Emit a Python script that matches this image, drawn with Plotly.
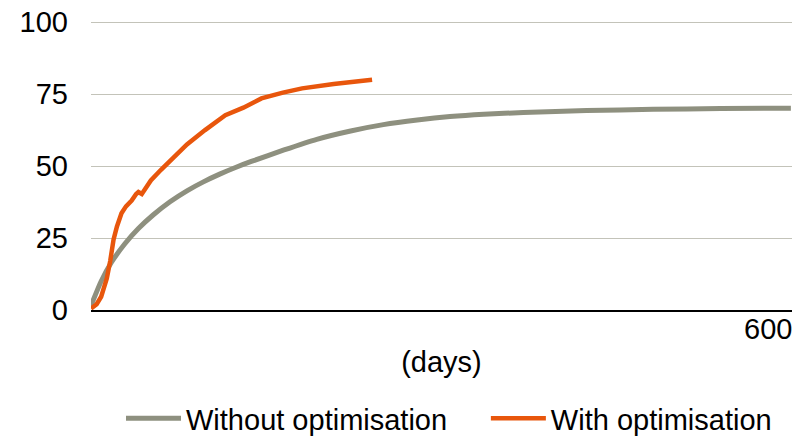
import plotly.graph_objects as go

# Data
without_days = [0, 9, 18, 30, 42, 55, 70, 85, 100, 114, 128, 142, 171, 200, 230, 259, 289, 318, 348, 383, 439, 498, 558, 620]
without_vals = [1.5, 10.0, 16.5, 23.0, 28.3, 33.0, 37.6, 41.4, 44.6, 47.2, 49.5, 51.6, 55.6, 59.3, 62.2, 64.4, 66.0, 67.2, 68.0, 68.6, 69.3, 69.7, 70.0, 70.1]

with_days = [0, 5, 9, 14, 17, 20, 23, 27, 31, 36, 40, 42, 45, 49, 53, 62, 72, 85, 101, 119, 135, 151, 170, 187, 215, 249]
with_vals = [0.5, 2, 4.6, 11, 17, 24.5, 29, 33.6, 36, 38, 40.3, 41, 40.3, 42.8, 45, 48.7, 52.3, 57.5, 62.5, 67.7, 70.3, 73.5, 75.5, 77, 78.5, 80]

y_ticks = [0, 25, 50, 75, 100]
x_ticks = [600]
x_title = "(days)"

FONT = "Liberation Sans, Arial, sans-serif"

fig = go.Figure()
fig.add_trace(go.Scatter(x=without_days, y=without_vals, mode="lines",
                         name="Without optimisation", legend="legend",
                         line=dict(color="#8E907F", width=5, shape="spline", smoothing=0.6)))
fig.add_trace(go.Scatter(x=with_days, y=with_vals, mode="lines",
                         name="With optimisation", legend="legend2",
                         line=dict(color="#E8560C", width=4.5)))

leg_common = dict(orientation="h", yanchor="middle", y=-0.375, xanchor="left",
                  font=dict(size=29), itemwidth=55, bgcolor="rgba(0,0,0,0)")

fig.update_layout(
    width=812, height=439,
    margin=dict(l=91, r=20, t=21, b=129, autoexpand=False),
    plot_bgcolor="white", paper_bgcolor="white",
    font=dict(family=FONT, size=29, color="#000000"),
    showlegend=True,
    legend=dict(x=0.0428, **leg_common),
    legend2=dict(x=0.5633, **leg_common),
    xaxis=dict(range=[0, 621], tickvals=x_ticks, ticktext=[str(v) for v in x_ticks],
               showgrid=False, zeroline=False, showline=True, linecolor="#000000", linewidth=1.5,
               ticks="", ticklabelstandoff=-8, automargin=False,
               title=dict(text=x_title, standoff=8, font=dict(size=29))),
    yaxis=dict(range=[0, 100.4], tickvals=y_ticks, showgrid=True, gridcolor="#C3C3B9", gridwidth=1.2,
               zeroline=False, showline=False, ticks="", ticklabelstandoff=22, automargin=False),
)

fig.write_html("out.html", post_script="document.body.style.margin='0';",
               config={"displayModeBar": False})
